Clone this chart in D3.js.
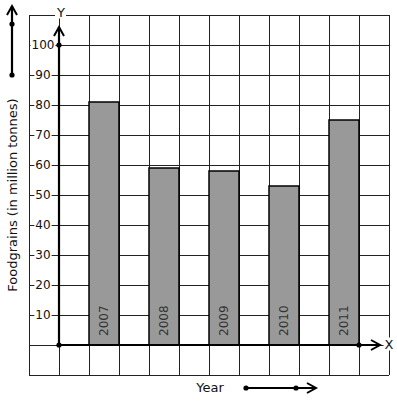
<!DOCTYPE html>
<html>
<head>
<meta charset="utf-8">
<script src="https://cdn.jsdelivr.net/npm/d3@7"></script>
<style>
  html, body { margin: 0; padding: 0; background: #fff; }
  svg { display: block; font-family: "DejaVu Sans", sans-serif; }
</style>
</head>
<body>
<div id="chart"></div>
<script>
// ── Data ──────────────────────────────────────────────────────────────────
const years      = ['2007', '2008', '2009', '2010', '2011'];
const foodgrains = [81, 59, 58, 53, 75];
const yTicks     = [10, 20, 30, 40, 50, 60, 70, 80, 90, 100];

const width = 397, height = 401;

const svg = d3.select('#chart').append('svg')
  .attr('width', width)
  .attr('height', height);

// grid units: one cell = 1 on x, 10 on y
const x = d3.scaleLinear().domain([-1, 11]).range([29, 389]);
const y = d3.scaleLinear().domain([-10, 110]).range([375, 15]);

const GRID = '#222';

// ── Grid ──────────────────────────────────────────────────────────────────
const grid = svg.append('g').attr('shape-rendering', 'crispEdges');
grid.selectAll('line.v')
  .data(d3.range(-1, 12))
  .join('line')
  .attr('x1', d => x(d)).attr('x2', d => x(d))
  .attr('y1', y(-10)).attr('y2', y(110))
  .attr('stroke', GRID).attr('stroke-width', 1);
grid.selectAll('line.h')
  .data(d3.range(-10, 111, 10))
  .join('line')
  .attr('x1', x(-1)).attr('x2', x(11))
  .attr('y1', d => y(d)).attr('y2', d => y(d))
  .attr('stroke', GRID).attr('stroke-width', 1);

// ── Bars ──────────────────────────────────────────────────────────────────
const bars = svg.append('g');
bars.selectAll('rect')
  .data(foodgrains)
  .join('rect')
  .attr('x', (d, i) => x(1 + 2 * i))
  .attr('width', x(1) - x(0))
  .attr('y', d => y(d))
  .attr('height', d => y(0) - y(d))
  .attr('fill', '#999')
  .attr('stroke', '#000')
  .attr('stroke-width', 1.5);

bars.selectAll('text')
  .data(years)
  .join('text')
  .attr('transform', (d, i) => `translate(${x(1.5 + 2 * i) + 4},${y(0) - 9}) rotate(-90)`)
  .attr('font-size', 12)
  .attr('fill', '#333')
  .text(d => d);

// ── Labels with white backing ───────────────────────────────────────────
function boxedText(g, tx, ty, str, size, anchor) {
  const t = g.append('text')
    .attr('x', tx).attr('y', ty)
    .attr('font-size', size)
    .attr('text-anchor', anchor || 'middle')
    .attr('dominant-baseline', 'central')
    .attr('fill', '#111')
    .text(str);
  const b = t.node().getBBox();
  g.insert('rect', () => t.node())
    .attr('x', b.x - 1).attr('y', b.y + 1)
    .attr('width', b.width + 2).attr('height', b.height - 2)
    .attr('fill', '#fff');
  return t;
}

const labels = svg.append('g');
yTicks.forEach(v => boxedText(labels, 43, y(v), String(v), 12));

// ── Axes ──────────────────────────────────────────────────────────────────
const axes = svg.append('g').attr('stroke', '#000').attr('fill', 'none');

function arrow(g, x1, y1, x2, y2, dir) {
  g.append('line')
    .attr('x1', x1).attr('y1', y1).attr('x2', x2).attr('y2', y2)
    .attr('stroke-width', 2.2);
  const p = dir === 'up'
    ? [[x2 - 5, y2 + 9], [x2, y2], [x2 + 5, y2 + 9]]
    : [[x2 - 9, y2 - 5], [x2, y2], [x2 - 9, y2 + 5]];
  g.append('path')
    .attr('d', d3.line()(p))
    .attr('stroke-width', 2);
}

function dot(g, cx, cy) {
  g.append('circle').attr('cx', cx).attr('cy', cy).attr('r', 2.6)
    .attr('fill', '#000').attr('stroke', 'none');
}

arrow(axes, x(0), y(0), x(0), 27, 'up');
arrow(axes, x(0), y(0), 380, y(0), 'right');
dot(axes, x(0), y(0));
dot(axes, x(0), y(100));
dot(axes, x(10), y(0));

boxedText(labels, 61, 12, 'Y', 13);
boxedText(svg, 389, y(0) - 1, 'X', 13);

// side arrows
const deco = svg.append('g').attr('stroke', '#000').attr('fill', 'none');
arrow(deco, 12, 75, 12, 6, 'up');
dot(deco, 12, 75);
dot(deco, 12, 24);
arrow(deco, 246, 388, 316, 388, 'right');
dot(deco, 246, 388);
dot(deco, 296, 388);

// ── Titles ────────────────────────────────────────────────────────────────
svg.append('text')
  .attr('transform', `translate(17,195) rotate(-90)`)
  .attr('text-anchor', 'middle')
  .attr('font-size', 13)
  .attr('fill', '#111')
  .text('Foodgrains (in million tonnes)');

svg.append('text')
  .attr('x', 210).attr('y', 392)
  .attr('text-anchor', 'middle')
  .attr('font-size', 13)
  .attr('fill', '#111')
  .text('Year');
</script>
</body>
</html>
